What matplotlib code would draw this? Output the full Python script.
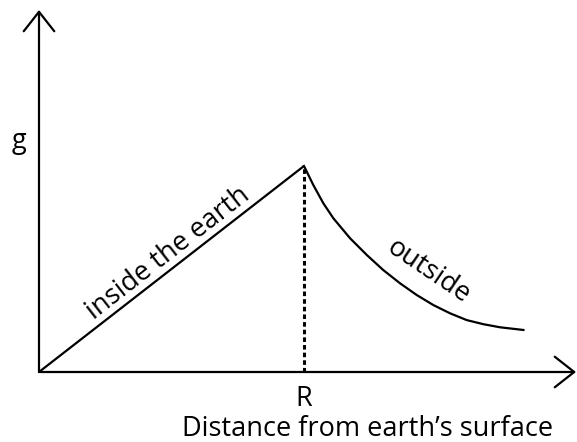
import matplotlib
matplotlib.use("Agg")
import matplotlib.pyplot as plt

plt.rcParams['font.family'] = ['Open Sans', 'DejaVu Sans']

# Data (R = 1, g at surface = 1)
inside_x = [0.0, 1.0]
inside_g = [0.0, 1.0]
outside_x = [1.000, 1.035, 1.073, 1.111, 1.174, 1.237, 1.299, 1.362,
             1.425, 1.488, 1.551, 1.614, 1.677, 1.740, 1.828]
outside_g = [1.000, 0.908, 0.819, 0.746, 0.649, 0.568, 0.495, 0.431,
             0.374, 0.325, 0.285, 0.252, 0.232, 0.217, 0.204]
R_value = 1.0
y_label = "g"
x_label = "Distance from earth\u2019s surface"
tick_label = "R"
inside_label = "inside the earth"
outside_label = "outside"

fig = plt.figure(figsize=(5.77, 4.42), dpi=100)
ax = fig.add_axes([0, 0, 1, 1])
ax.set_xlim(-39 / 265, (577 - 39) / 265)
ax.set_ylim(-70 / 206, 372 / 206)
ax.axis('off')

lw = 1.6
arrow = dict(arrowstyle='->,head_length=1.4,head_width=1.1',
             mutation_scale=10, lw=lw, color='black', shrinkA=0, shrinkB=0)
ax.annotate('', xy=(0, (372 - 10) / 206), xytext=(0, 0), arrowprops=arrow)
ax.annotate('', xy=((576 - 39) / 265, 0), xytext=(0, 0), arrowprops=arrow)

ax.plot(inside_x, inside_g, color='black', lw=lw, solid_capstyle='butt')
ax.plot(outside_x, outside_g, color='black', lw=lw, solid_joinstyle='round')
ax.plot([R_value, R_value], [0, outside_g[0]], color='black', lw=2.2,
        linestyle=(0, (1.5, 1.0)))

fs = 19.5
ax.text(-0.075, (372 - 141) / 206, y_label, fontsize=fs, ha='center', va='center')
ax.text(R_value, (372 - 399) / 206, tick_label, fontsize=fs, ha='center', va='center')
ax.text((368 - 39) / 265, (372 - 429) / 206, x_label, fontsize=fs, ha='center', va='center')
ax.text((168 - 39) / 265, (372 - 253) / 206, inside_label, fontsize=fs, ha='center',
        va='center', rotation=37.9, rotation_mode='anchor')
ax.text((428 - 39) / 265, (372 - 272) / 206, outside_label, fontsize=fs, ha='center',
        va='center', rotation=-34, rotation_mode='anchor')

fig.savefig('out.png', dpi=100)
